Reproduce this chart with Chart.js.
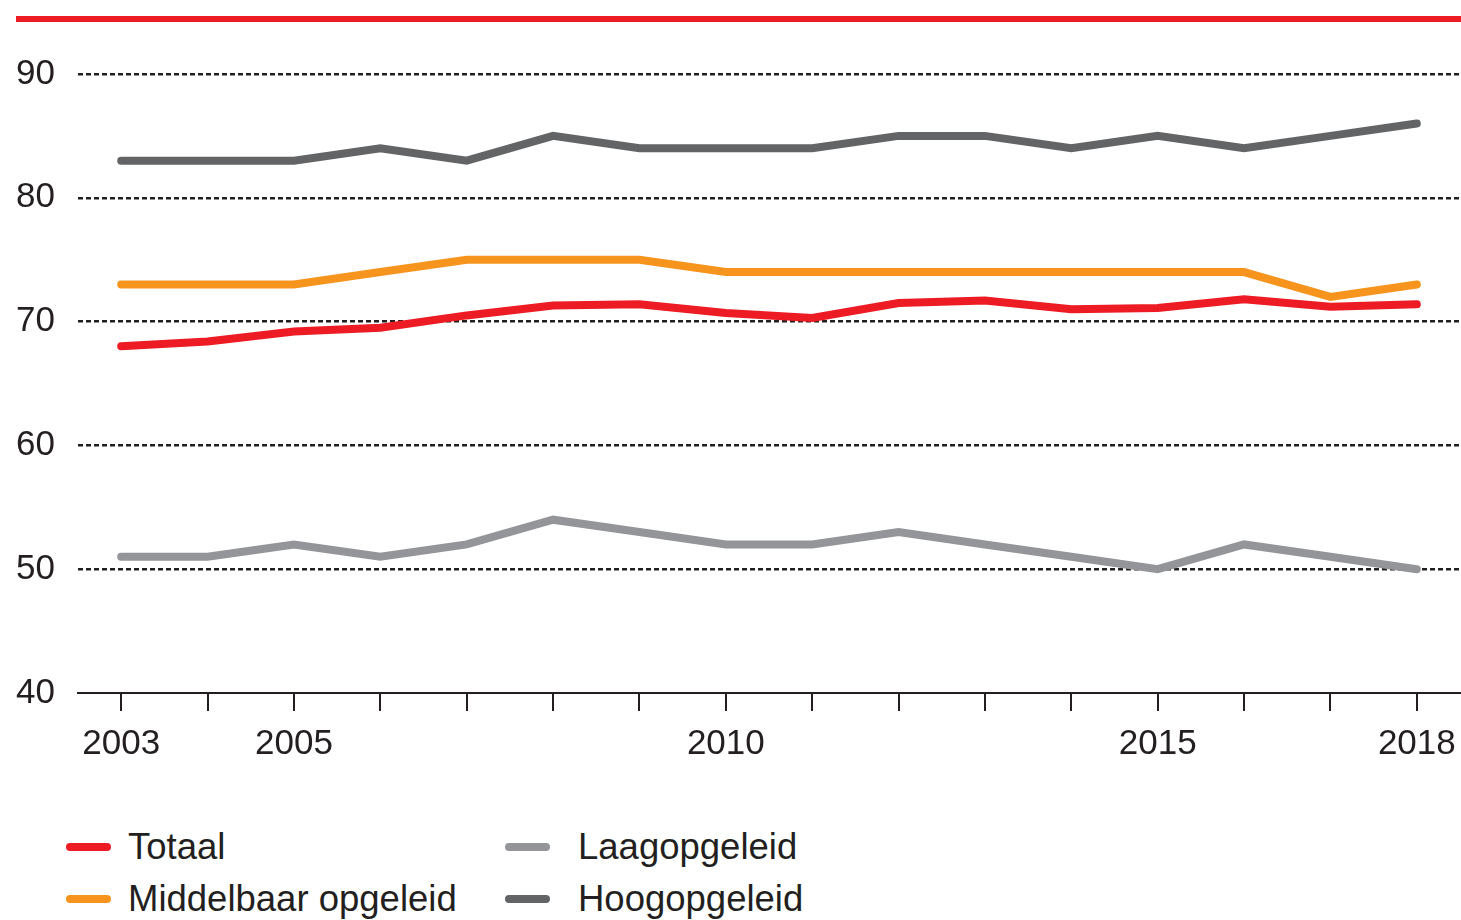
<!DOCTYPE html>
<html>
<head>
<meta charset="utf-8">
<script src="https://cdn.jsdelivr.net/npm/chart.js@4"></script>
<style>
  html, body { margin: 0; padding: 0; background: #fff; }
  #wrap { position: relative; width: 1461px; height: 920px; overflow: hidden; }
  #c { position: absolute; left: 0; top: 0; }
  #legend { position: absolute; left: 66px; top: 824px; display: grid;
    grid-template-columns: 439px 400px; row-gap: 6px;
    font-family: 'Liberation Sans Narrow', 'Arial Narrow', 'Liberation Sans', sans-serif;
    font-size: 36.5px; color: #231f20; }
  .item { display: flex; align-items: center; height: 46px; white-space: nowrap; }
  .sw { width: 45px; height: 8px; border-radius: 4px; margin-right: 17px; }
  .col2 .sw { margin-right: 28px; }
</style>
</head>
<body>
<div id="wrap">
  <canvas id="c" width="1461" height="800"></canvas>
  <div id="legend"></div>
</div>
<script>
const years = ['2003','2004','2005','2006','2007','2008','2009','2010','2011','2012','2013','2014','2015','2016','2017','2018'];
const shownYears = ['2003','2005','2010','2015','2018'];
const yTicks = [40, 50, 60, 70, 80, 90];

const totaal      = [68.0, 68.4, 69.2, 69.5, 70.5, 71.3, 71.4, 70.7, 70.3, 71.5, 71.7, 71.0, 71.1, 71.8, 71.2, 71.4];
const middelbaar  = [73, 73, 73, 74, 75, 75, 75, 74, 74, 74, 74, 74, 74, 74, 72, 73];
const laag        = [51, 51, 52, 51, 52, 54, 53, 52, 52, 53, 52, 51, 50, 52, 51, 50];
const hoog        = [83, 83, 83, 84, 83, 85, 84, 84, 84, 85, 85, 84, 85, 84, 85, 86];

const seriesNames = ['Totaal', 'Middelbaar opgeleid', 'Laagopgeleid', 'Hoogopgeleid'];
const seriesColors = ['#ED1C24', '#F7941D', '#939598', '#636466'];
const seriesData = [totaal, middelbaar, laag, hoog];

const FONT = "'Liberation Sans Narrow', 'Arial Narrow', 'Liberation Sans', sans-serif";

const topBar = {
  id: 'topBar',
  beforeDraw(chart) {
    const ctx = chart.ctx;
    ctx.save();
    ctx.fillStyle = '#ED1C24';
    ctx.fillRect(16, 16, 1445, 6);
    ctx.restore();
  }
};

const datasets = seriesData.map((d, i) => ({
  label: seriesNames[i],
  data: d,
  borderColor: seriesColors[i],
  backgroundColor: seriesColors[i],
  borderWidth: 8,
  borderCapStyle: 'round',
  pointRadius: 0,
  tension: 0,
  fill: false,
  order: i + 1
}));

new Chart(document.getElementById('c'), {
  type: 'line',
  data: { labels: years, datasets },
  options: {
    responsive: false,
    animation: false,
    layout: { padding: { top: 74, right: 1, left: 0, bottom: 0 } },
    plugins: { legend: { display: false }, tooltip: { enabled: false } },
    scales: {
      x: {
        offset: true,
        grid: { offset: false, drawOnChartArea: false, drawTicks: true, tickLength: 18, color: '#231f20', lineWidth: 2 },
        border: { display: true, color: '#231f20', width: 2 },
        ticks: {
          autoSkip: false, maxRotation: 0, padding: 12,
          color: '#231f20',
          font: { family: FONT, size: 35 },
          callback: function(v, i) { const l = years[i]; return shownYears.includes(l) ? l : ''; }
        },
        afterFit(scale) { scale.height = 107; scale.paddingLeft = 0; scale.paddingRight = 0; }
      },
      y: {
        min: 40, max: 90,
        afterBuildTicks(scale) { scale.ticks = yTicks.map(v => ({ value: v })); },
        grid: {
          drawTicks: false,
          color: (c) => c.tick && c.tick.value === 40 ? 'rgba(0,0,0,0)' : '#231f20',
          lineWidth: 2.5
        },
        border: { display: false, dash: [5, 3] },
        ticks: { padding: 23, color: '#231f20', font: { family: FONT, size: 35 } },
        afterFit(scale) { scale.width = 78; scale.paddingTop = 0; scale.paddingBottom = 0; }
      }
    }
  },
  plugins: [topBar]
});

// HTML legend built from series definitions
const legendOrder = [0, 2, 1, 3];
const lg = document.getElementById('legend');
legendOrder.forEach((i, k) => {
  const it = document.createElement('div');
  it.className = 'item' + (k % 2 === 1 ? ' col2' : '');
  const sw = document.createElement('span');
  sw.className = 'sw';
  sw.style.background = seriesColors[i];
  const tx = document.createElement('span');
  tx.textContent = seriesNames[i];
  it.appendChild(sw); it.appendChild(tx);
  lg.appendChild(it);
});
</script>
</body>
</html>
